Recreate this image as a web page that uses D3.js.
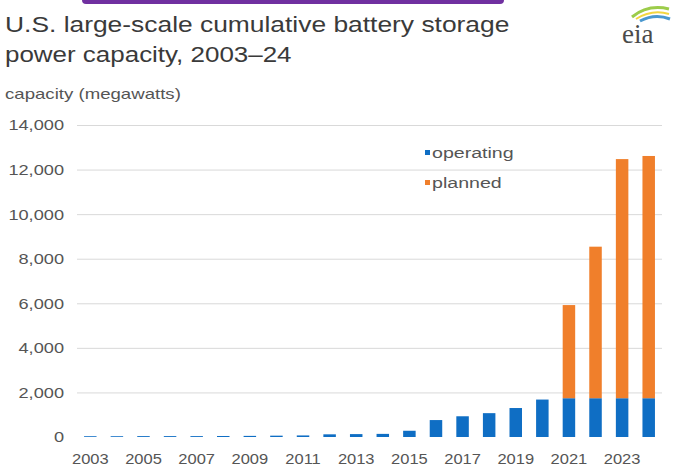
<!DOCTYPE html>
<html>
<head>
<meta charset="utf-8">
<script src="https://cdn.jsdelivr.net/npm/d3@7"></script>
<style>
  body { margin: 0; background: #fff; }
  svg { display: block; font-family: "Liberation Sans", Arial, sans-serif; }
</style>
</head>
<body>
<div id="chart-area"></div>
<script>
// U.S. large-scale cumulative battery storage power capacity, 2003-24

const years = ["2003", "2004", "2005", "2006", "2007", "2008", "2009", "2010", "2011", "2012", "2013",
  "2014", "2015", "2016", "2017", "2018", "2019", "2020", "2021", "2022", "2023", "2024"]
const operating = [35, 35, 40, 40, 40, 45, 50, 60, 70, 120, 130, 140, 280, 760, 930, 1070, 1300, 1680,
  1740, 1740, 1740, 1740]
const planned = [0, 0, 0, 0, 0, 0, 0, 0, 0, 0, 0, 0, 0, 0, 0, 0, 0, 0, 4180, 6800, 10730, 10870]
const yTicks = [0, 2000, 4000, 6000, 8000, 10000, 12000, 14000]
const xTickLabels = ["2003", "2005", "2007", "2009", "2011", "2013", "2015", "2017", "2019", "2021", "2023"]
const seriesNames = ["operating", "planned"]
const colors = { operating: "#0f6ec4", planned: "#f07f2b" }

const W = 673, H = 469
const PLOT = { LEFT: 77, RIGHT: 662, TOP: 125, BOTTOM: 437 }

const svg = d3.select("#chart-area").append("svg")
  .attr("width", W)
  .attr("height", H)

// purple strip at top
svg.append("rect")
  .attr("x", 82).attr("y", -5)
  .attr("width", 422).attr("height", 9)
  .attr("rx", 4)
  .attr("fill", "#7030a0")

// stretched text helper
function label(g, txt, x, y, size, sx, opts = {}) {
  return g.append("text")
    .attr("transform", `translate(${x}, ${y}) scale(${sx}, 1)`)
    .attr("font-size", size + "px")
    .attr("fill", opts.fill || "#555")
    .attr("text-anchor", opts.anchor || "start")
    .text(txt)
}

label(svg, "U.S. large-scale cumulative battery storage", 5, 32, 22, 1.2, { fill: "#3a3a3a" })
label(svg, "power capacity, 2003\u201324", 5, 62, 22, 1.18, { fill: "#3a3a3a" })
label(svg, "capacity (megawatts)", 5, 99, 14, 1.33, { fill: "#555" })

// eia logo
const logo = svg.append("g")
logo.append("path")
  .attr("d", "M632,17 Q648,4 669,9")
  .attr("fill", "none").attr("stroke", "#9ccc4a").attr("stroke-width", 3)
logo.append("path")
  .attr("d", "M636,19 Q652,9 669,14")
  .attr("fill", "none").attr("stroke", "#f3d640").attr("stroke-width", 2)
logo.append("path")
  .attr("d", "M640,21 Q655,13 670,19")
  .attr("fill", "none").attr("stroke", "#4a98cf").attr("stroke-width", 3)
logo.append("text")
  .attr("x", 622).attr("y", 43)
  .attr("font-family", "'Liberation Serif', 'DejaVu Serif', serif")
  .attr("font-size", "27px")
  .attr("fill", "#4b4b4b")
  .text("eia")

// scales
const x = d3.scaleBand()
  .domain(years)
  .range([PLOT.LEFT, PLOT.RIGHT])
  .paddingInner(0.53)
  .paddingOuter(0.265)

const y = d3.scaleLinear()
  .domain([0, 14000])
  .range([PLOT.BOTTOM, PLOT.TOP])

// y axis with gridlines
const yAxis = svg.append("g")
  .attr("transform", `translate(${PLOT.LEFT}, 0)`)
  .call(d3.axisLeft(y)
    .tickValues(yTicks)
    .tickSize(-(PLOT.RIGHT - PLOT.LEFT))
    .tickFormat(d3.format(",")))
yAxis.select(".domain").remove()
yAxis.selectAll(".tick line")
  .attr("stroke", "#d9d9d9")
  .attr("stroke-width", 1)
  .attr("stroke-opacity", d => d === 0 ? 0 : 1)
yAxis.selectAll(".tick text")
  .attr("x", 0)
  .attr("dy", "0.35em")
  .attr("transform", "translate(-13, 0) scale(1.3, 1)")
  .attr("font-size", "14px")
  .attr("font-family", "'Liberation Sans', Arial, sans-serif")
  .attr("fill", "#555")

// stacked bars
const rows = years.map((yr, i) => ({ year: yr, operating: operating[i], planned: planned[i] }))
const stack = d3.stack().keys(seriesNames)(rows)

svg.append("g")
  .selectAll("g")
  .data(stack)
  .join("g")
    .attr("fill", d => colors[d.key])
  .selectAll("rect")
  .data(d => d.filter(s => s[1] > s[0]))
  .join("rect")
    .attr("x", d => x(d.data.year))
    .attr("width", x.bandwidth())
    .attr("y", d => y(d[1]))
    .attr("height", d => y(d[0]) - y(d[1]))

// x axis labels
const xAxis = svg.append("g")
  .attr("transform", `translate(0, ${PLOT.BOTTOM})`)
  .call(d3.axisBottom(x).tickValues(xTickLabels).tickSize(0))
xAxis.select(".domain").remove()
xAxis.selectAll(".tick text")
  .attr("y", 0)
  .attr("dy", 0)
  .attr("transform", "translate(0, 27) scale(1.1, 1)")
  .attr("font-size", "15px")
  .attr("font-family", "'Liberation Sans', Arial, sans-serif")
  .attr("fill", "#555")

// legend
const legend = svg.append("g")
seriesNames.forEach((name, i) => {
  const ly = 153 + i * 30
  legend.append("rect")
    .attr("x", 425).attr("y", ly - 3)
    .attr("width", 5).attr("height", 5)
    .attr("fill", colors[name])
  label(legend, name, 432, ly + 5, 14, 1.4, { fill: "#555" })
})
</script>
</body>
</html>
